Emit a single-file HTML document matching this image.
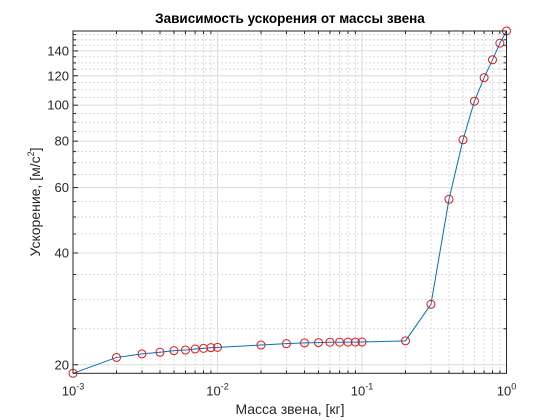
<!DOCTYPE html>
<html><head><meta charset="utf-8"><style>
body{margin:0;background:#fff;}
svg{display:block;font-family:"Liberation Sans",Arial,sans-serif;}
</style></head><body>
<svg id="chart" width="560" height="420" viewBox="0 0 560 420" xmlns="http://www.w3.org/2000/svg">
<rect width="560" height="420" fill="#fff"/>
<g id="grid"></g>
<g id="series"></g>
<rect x="73" y="31" width="433.5" height="342.3" fill="none" stroke="#262626" stroke-width="1"/>
<g id="ticks"></g>
<text x="290" y="23" text-anchor="middle" font-size="13.5" font-weight="bold" fill="#000">Зависимость ускорения от массы звена</text>
<text x="290" y="414" text-anchor="middle" font-size="14" fill="#262626">Масса звена, [кг]</text>
<text transform="translate(40,202) rotate(-90)" text-anchor="middle" font-size="14" fill="#262626">Ускорение, [м/с<tspan font-size="9" dy="-6">2</tspan><tspan dy="6">]</tspan></text>
</svg>
<script>
const xValues=[0.001,0.002,0.003,0.004,0.005,0.006,0.007,0.008,0.009,0.01,0.02,0.03,0.04,0.05,0.06,0.07,0.08,0.09,0.1,0.2,0.3,0.4,0.5,0.6,0.7,0.8,0.9,1.0];
const yValues=[18.97,20.93,21.39,21.61,21.83,21.91,22.05,22.14,22.24,22.28,22.6,22.8,22.9,22.95,23.0,23.0,23.02,23.02,23.03,23.2,29.1,55.8,80.7,102.5,118.6,132.5,146.9,158.4];
const yTicks=[20,40,60,80,100,120,140];
const xTickExps=[-3,-2,-1,0];

const NS="http://www.w3.org/2000/svg";
const L=73,R=506.5,T=31,B=373.3;
const xMin=0.001,xMax=1,yMin=18.97,yMax=158.4;
function sx(v){return L+(Math.log10(v)-Math.log10(xMin))/(Math.log10(xMax)-Math.log10(xMin))*(R-L);}
function sy(v){return B-(Math.log10(v)-Math.log10(yMin))/(Math.log10(yMax)-Math.log10(yMin))*(B-T);}
function mk(tag,attrs,parent){const e=document.createElementNS(NS,tag);for(const k in attrs)e.setAttribute(k,attrs[k]);parent.appendChild(e);return e;}
const grid=document.getElementById('grid'),ticks=document.getElementById('ticks'),series=document.getElementById('series');

// minor y grid every 5
for(let v=20;v<=155;v+=5){if(yTicks.includes(v))continue;const y=sy(v);if(y<T||y>B)continue;
 const g=mk('line',{x1:L,x2:R,y1:y,y2:y,stroke:'#d0d0d0','stroke-width':0.8,'stroke-dasharray':'2,2'},grid);
 
 
 const t=mk('line',{x1:L,x2:L+3,y1:y,y2:y,stroke:'#262626'},ticks);
 
 
 const t2=mk('line',{x1:R,x2:R-3,y1:y,y2:y,stroke:'#262626'},ticks);
 
 }
// minor x grid
for(let e=-3;e<0;e++){for(let m=2;m<=9;m++){const x=sx(m*Math.pow(10,e));
 const g=mk('line',{x1:x,x2:x,y1:T,y2:B,stroke:'#d0d0d0','stroke-width':0.8,'stroke-dasharray':'2,2'},grid);
 
 
 const t=mk('line',{x1:x,x2:x,y1:B,y2:B-3,stroke:'#262626'},ticks);
 
 
 const t2=mk('line',{x1:x,x2:x,y1:T,y2:T+3,stroke:'#262626'},ticks);
 
 }}
// major y
yTicks.forEach(v=>{const y=sy(v);
 const g=mk('line',{x1:L,x2:R,y1:y,y2:y,stroke:'#dcdcdc','stroke-width':1},grid);
 
 
 const t=mk('line',{x1:L,x2:L+5,y1:y,y2:y,stroke:'#262626'},ticks);
 
 
 const lb=mk('text',{x:L-4,y:y+4.5,'text-anchor':'end','font-size':'13',fill:'#262626'},ticks);
 lb.textContent=v;
 
 });
// major x
xTickExps.forEach(e=>{const x=sx(Math.pow(10,e));
 const g=mk('line',{x1:x,x2:x,y1:T,y2:B,stroke:'#dcdcdc','stroke-width':1},grid);
 
 
 const lb=mk('text',{x:x,y:B+22,'text-anchor':'middle','font-size':'13',fill:'#262626'},ticks);
 
 
 lb.innerHTML='10<tspan font-size="9" dy="-6">'+e+'</tspan>';});
// line
const pts=xValues.map((v,i)=>sx(v).toFixed(2)+','+sy(yValues[i]).toFixed(2)).join(' ');
const pl=mk('polyline',{points:pts,fill:'none',stroke:'#0072bd','stroke-width':1},series);


xValues.forEach((v,i)=>{const c=mk('circle',{cx:sx(v),cy:sy(yValues[i]),r:4,fill:'none',stroke:'#e8141a','stroke-width':1},series);
 
 });
</script>
</body></html>
